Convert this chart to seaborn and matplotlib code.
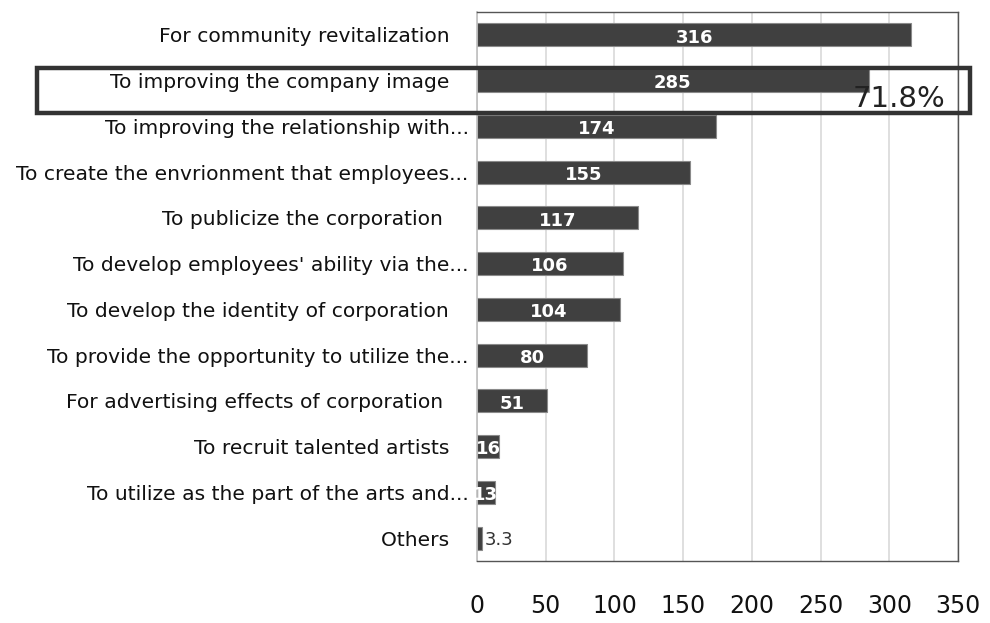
import matplotlib
matplotlib.use("Agg")
import matplotlib.pyplot as plt
import seaborn as sns
import pandas as pd
from matplotlib.patches import Rectangle

# Survey reasons (top to bottom) and number of responses
reasons = [
    "For community revitalization   ",
    "To improving the company image   ",
    "To improving the relationship with...",
    "To create the envrionment that employees...",
    "To publicize the corporation    ",
    "To develop employees' ability via the...",
    "To develop the identity of corporation   ",
    "To provide the opportunity to utilize the...",
    "For advertising effects of corporation    ",
    "To recruit talented artists   ",
    "To utilize as the part of the arts and...",
    "Others   ",
]
responses = [316, 285, 174, 155, 117, 106, 104, 80, 51, 16, 13, 3.3]
response_labels = ["316", "285", "174", "155", "117", "106", "104", "80", "51", "16", "13", "3.3"]
x_ticks = [0, 50, 100, 150, 200, 250, 300, 350]
highlight_share = "71.8%"

sns.set_theme(style="white")
plt.rcParams["font.family"] = ["DejaVu Sans"]

W, H = 990, 623
fig = plt.figure(figsize=(W / 100, H / 100), dpi=100)
ax = fig.add_axes([477 / W, 1 - 561 / H, (958 - 477) / W, (561 - 12) / H])

df = pd.DataFrame({"reason": reasons, "responses": responses})
sns.barplot(data=df, y="reason", x="responses", orient="h", color="#404040",
            saturation=1, width=0.5, edgecolor="#8a8a8a", linewidth=0.8, ax=ax)

ax.set_xlim(0, 350)
ax.set_xticks(x_ticks)
ax.set_xticklabels([str(t) for t in x_ticks])
ax.grid(axis="x", color="#d9d9d9", linewidth=1.2)
ax.grid(axis="y", visible=False)
ax.set_axisbelow(True)
ax.set_xlabel("")
ax.set_ylabel("")
ax.tick_params(axis="x", length=0, pad=24, labelsize=17, labelcolor="#111111")
ax.tick_params(axis="y", length=0, pad=6, labelsize=14.6, labelcolor="#111111")

ax.spines["left"].set_color("#bfbfbf")
ax.spines["left"].set_linewidth(1.2)
for side in ("top", "right", "bottom"):
    ax.spines[side].set_color("#555555")
    ax.spines[side].set_linewidth(1.0)

# Value labels: white and bold inside the bar, clipped to it; tiny values sit outside
for bar, val, lab in zip(ax.containers[0], responses, response_labels):
    cy = bar.get_y() + bar.get_height() / 2
    if val < 10:
        ax.text(val + 2.5, cy + 0.04, lab, ha="left", va="center",
                color="#333333", fontsize=13)
    else:
        t = ax.text(val / 2, cy + 0.06, lab, ha="center", va="center",
                    color="white", fontweight="bold", fontsize=13)
        t.set_clip_path(bar)

# Highlight frame around the second row and its share
fig.patches.append(Rectangle((37 / W, 1 - 113 / H), (970 - 37) / W, 45 / H,
                             transform=fig.transFigure, fill=False,
                             edgecolor="#333333", linewidth=3.2, zorder=10))
fig.text(945 / W, 1 - 107 / H, highlight_share, ha="right", va="baseline",
         fontsize=21, color="#222222", zorder=11)

fig.savefig("out.png", dpi=100)
